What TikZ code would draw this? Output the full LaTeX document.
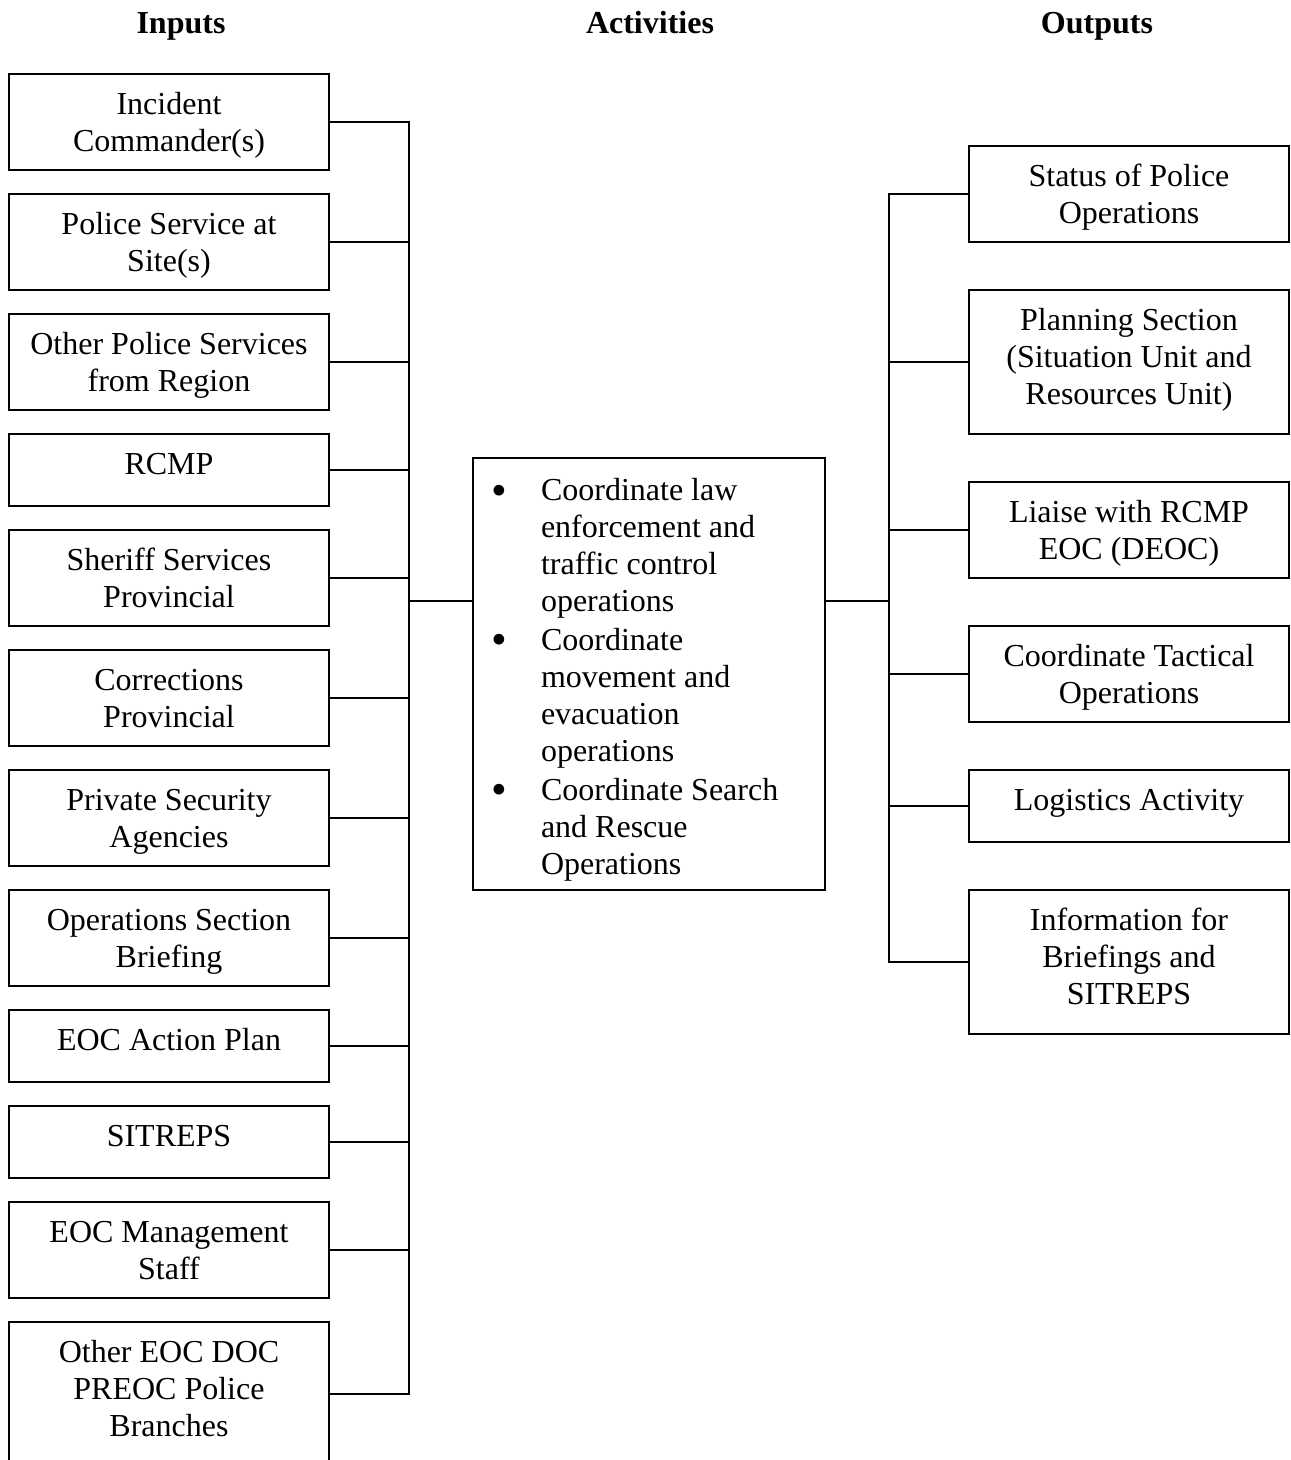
\documentclass[tikz,border=0pt]{standalone}
\usepackage{fontspec}
\setmainfont{Liberation Serif}
% text block of a fixed-height box, set from the top
\newcommand\boxtext[2]{\parbox[c][#1][t]{240pt}{\centering\rule{0pt}{30pt}#2}}
\newcommand\itm{\hspace*{14pt}\makebox[37pt][l]{\raisebox{-0.14em}{\scalebox{1.4}{\textbullet}}}}
\newcommand\cnt{\hspace*{51pt}}
\begin{document}
\begin{tikzpicture}[x=0.75pt,y=-0.75pt,
  every node/.style={font=\fontsize{24}{27.75}\selectfont},
  inbox/.style={draw, line width=1.5pt, inner sep=0pt, anchor=north},
  link/.style={line width=1.3pt},
  head/.style={font=\fontsize{24}{27.75}\selectfont\bfseries, anchor=base, inner sep=0pt}]
\useasboundingbox (0,0) rectangle (1291,1460);

% column headings
\node[head] (hin)  at (181,33)  {Inputs};
\node[head] (hact) at (650,33)  {Activities};
\node[head] (hout) at (1097,33) {Outputs};

% inputs
\node[inbox] (l1)  at (169,73)   {\boxtext{72pt}{Incident\\Commander(s)}};
\node[inbox] (l2)  at (169,193)  {\boxtext{72pt}{Police Service at\\Site(s)}};
\node[inbox] (l3)  at (169,313)  {\boxtext{72pt}{Other Police Services\\from Region}};
\node[inbox] (l4)  at (169,433)  {\boxtext{54pt}{RCMP}};
\node[inbox] (l5)  at (169,529)  {\boxtext{72pt}{Sheriff Services\\Provincial}};
\node[inbox] (l6)  at (169,649)  {\boxtext{72pt}{Corrections\\Provincial}};
\node[inbox] (l7)  at (169,769)  {\boxtext{72pt}{Private Security\\Agencies}};
\node[inbox] (l8)  at (169,889)  {\boxtext{72pt}{Operations Section\\Briefing}};
\node[inbox] (l9)  at (169,1009) {\boxtext{54pt}{EOC Action Plan}};
\node[inbox] (l10) at (169,1105) {\boxtext{54pt}{SITREPS}};
\node[inbox] (l11) at (169,1201) {\boxtext{72pt}{EOC Management\\Staff}};
\node[inbox] (l12) at (169,1321) {\boxtext{108pt}{Other EOC DOC\\PREOC Police\\Branches}};

% activities
\node[inbox] (mid) at (649,457) {\parbox[c][324pt][t]{264pt}{\raggedright\rule{0pt}{32pt}%
  \itm Coordinate law\\
  \cnt enforcement and\\
  \cnt traffic control\\
  \cnt operations\\[1pt]
  \itm Coordinate\\
  \cnt movement and\\
  \cnt evacuation\\
  \cnt operations\\[1.5pt]
  \itm Coordinate Search\\
  \cnt and Rescue\\
  \cnt Operations}};

% outputs
\node[inbox] (r1) at (1129,145) {\boxtext{72pt}{Status of Police\\Operations}};
\node[inbox] (r2) at (1129,289) {\boxtext{108pt}{Planning Section\\(Situation Unit and\\Resources Unit)}};
\node[inbox] (r3) at (1129,481) {\boxtext{72pt}{Liaise with RCMP\\EOC (DEOC)}};
\node[inbox] (r4) at (1129,625) {\boxtext{72pt}{Coordinate Tactical\\Operations}};
\node[inbox] (r5) at (1129,769) {\boxtext{54pt}{Logistics Activity}};
\node[inbox] (r6) at (1129,889) {\boxtext{108pt}{Information for\\Briefings and\\SITREPS}};

% buses
\coordinate (lbus) at (409,601);
\coordinate (rbus) at (889,601);
\foreach \i in {1,...,12} \draw[link] (l\i.east) -| (lbus);
\draw[link] (lbus) -- (lbus -| mid.west);
\draw[link] (rbus -| mid.east) -- (rbus);
\foreach \i in {1,...,6} \draw[link] (rbus) |- (r\i.west);
\end{tikzpicture}
\end{document}
